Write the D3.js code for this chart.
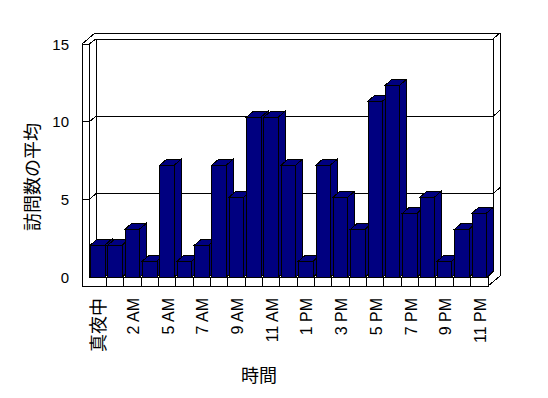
<!DOCTYPE html>
<html><head><meta charset="utf-8">
<script src="https://cdn.jsdelivr.net/npm/d3@7"></script>
<style>
html,body{margin:0;padding:0;background:#fff;}
svg{display:block;}
text{fill:#000;}
</style></head>
<body>
<svg id="c" width="548" height="398"></svg>
<script>
const categories = ["真夜中","1 AM","2 AM","3 AM","5 AM","6 AM","7 AM","8 AM","9 AM","10 AM","11 AM","12 PM","1 PM","2 PM","3 PM","4 PM","5 PM","6 PM","7 PM","8 PM","9 PM","10 PM","11 PM"];
const values = [2,2,3,1,7,1,2,7,5,10,10,7,1,7,5,3,11,12,4,5,1,3,4];
const yTicks = [0,5,10,15];
const xTitle = "時間";
const yTitle = "訪問数の平均";

const svg = d3.select("#c");
const FONT = "'Liberation Sans', Arial, sans-serif";
const CJK = "'Noto Sans CJK JP', sans-serif";
const isCJK = s => /[\u3000-\u9fff]/.test(s);

// geometry
const xOuter = 82, xFront = 89, xBackL = 96, xBackR = 493, xRear = 500;
const yFloorTop = 277, yFloorBot = 286;
const dX = 7, dY = 6;

const x = d3.scaleBand().domain(categories).range([xFront, 488]).padding(0);
const yAxisS = d3.scaleLinear().domain([0,15]).range([277.3, 44.3]);
const yBack = d3.scaleLinear().domain([0,15]).range([271, 39]);
const yBar = d3.scaleLinear().domain([0,15]).range([277, 37]);

const g = svg.append("g").attr("shape-rendering","crispEdges")
  .attr("stroke","#000").attr("stroke-width",1).attr("fill","none");

function line(pts){ g.append("path").attr("d", d3.line()(pts)); }

// back wall rear outline
line([[95,33],[xRear,33],[xRear,276]]);
// back wall front face top & right
line([[xBackL,39],[xBackR,39],[xBackR,271]]);
line([[xBackR,39],[xRear,33]]);
line([[xBackL,271],[xBackR,271]]);
// left wall
line([[xOuter,44],[xFront,44]]);
line([[xOuter,44],[95,33]]);
line([[xFront,44],[xBackL,39]]);
line([[xOuter,44],[xOuter,yFloorBot]]);
line([[xFront,44],[xFront,yFloorTop]]);
line([[xBackL,39],[xBackL,271]]);
// gridlines
[5,10].forEach(v=>{
  const yf = yAxisS(v), yb = yBack(v);
  line([[xOuter,yf],[xFront,yf],[xBackL,yb],[xBackR,yb],[xRear,yb-6]]);
});
// floor
line([[xOuter,yFloorBot],[488,yFloorBot],[488,yFloorTop],[xFront,yFloorTop]]);
line([[488,yFloorBot],[xRear,276]]);
line([[488,yFloorTop],[xBackR,272]]);
categories.forEach((c,i)=>{ if(i>0) line([[x(c),yFloorTop],[x(c),yFloorBot]]); });

// bars
const bw = 14.5, off = 1.5;
const bars = svg.append("g").attr("shape-rendering","crispEdges");
categories.forEach((c,i)=>{
  const x0 = x(c)+off, x1 = x0+bw, y = yBar(values[i]), yb = yFloorTop;
  const bg = bars.append("g").attr("fill","#000080").attr("stroke","#000").attr("stroke-width",1);
  bg.append("path").attr("d", d3.line()([[x1,y],[x1+dX,y-dY],[x1+dX,yb-dY],[x1,yb]])+"Z");
  bg.append("path").attr("d", d3.line()([[x0,y],[x0+dX,y-dY],[x1+dX,y-dY],[x1,y]])+"Z");
  bg.append("path").attr("d", d3.line()([[x0,y],[x1,y],[x1,yb],[x0,yb]])+"Z");
});

// y axis labels
const ya = svg.append("g").attr("transform",`translate(${xOuter},0)`)
  .call(d3.axisLeft(yAxisS).tickValues(yTicks).tickSize(0).tickPadding(13));
ya.select(".domain").remove();
ya.selectAll("text").attr("font-family",FONT).attr("font-size",15).style("fill","#000");

// x axis labels
const xa = svg.append("g").attr("transform",`translate(1,298)`)
  .call(d3.axisBottom(x).tickValues(categories.filter((d,i)=>i%2===0)).tickSize(0));
xa.select(".domain").remove();
xa.selectAll("text").attr("transform","rotate(-90)").attr("x",0).attr("y",0).attr("dy","0.35em")
  .attr("text-anchor","end")
  .attr("font-family",d=>isCJK(d)?CJK:FONT)
  .attr("font-size",d=>isCJK(d)?18:16).style("fill","#000");

// titles
svg.append("text").attr("x",259).attr("y",374).attr("text-anchor","middle").attr("dominant-baseline","central")
  .attr("font-family",CJK).attr("font-size",18).style("fill","#000").text(xTitle);
svg.append("text").attr("transform","translate(31,177) rotate(-90)").attr("text-anchor","middle")
  .attr("dominant-baseline","central").attr("font-family",CJK).attr("font-size",18).style("fill","#000").text(yTitle);
</script>
</body></html>
